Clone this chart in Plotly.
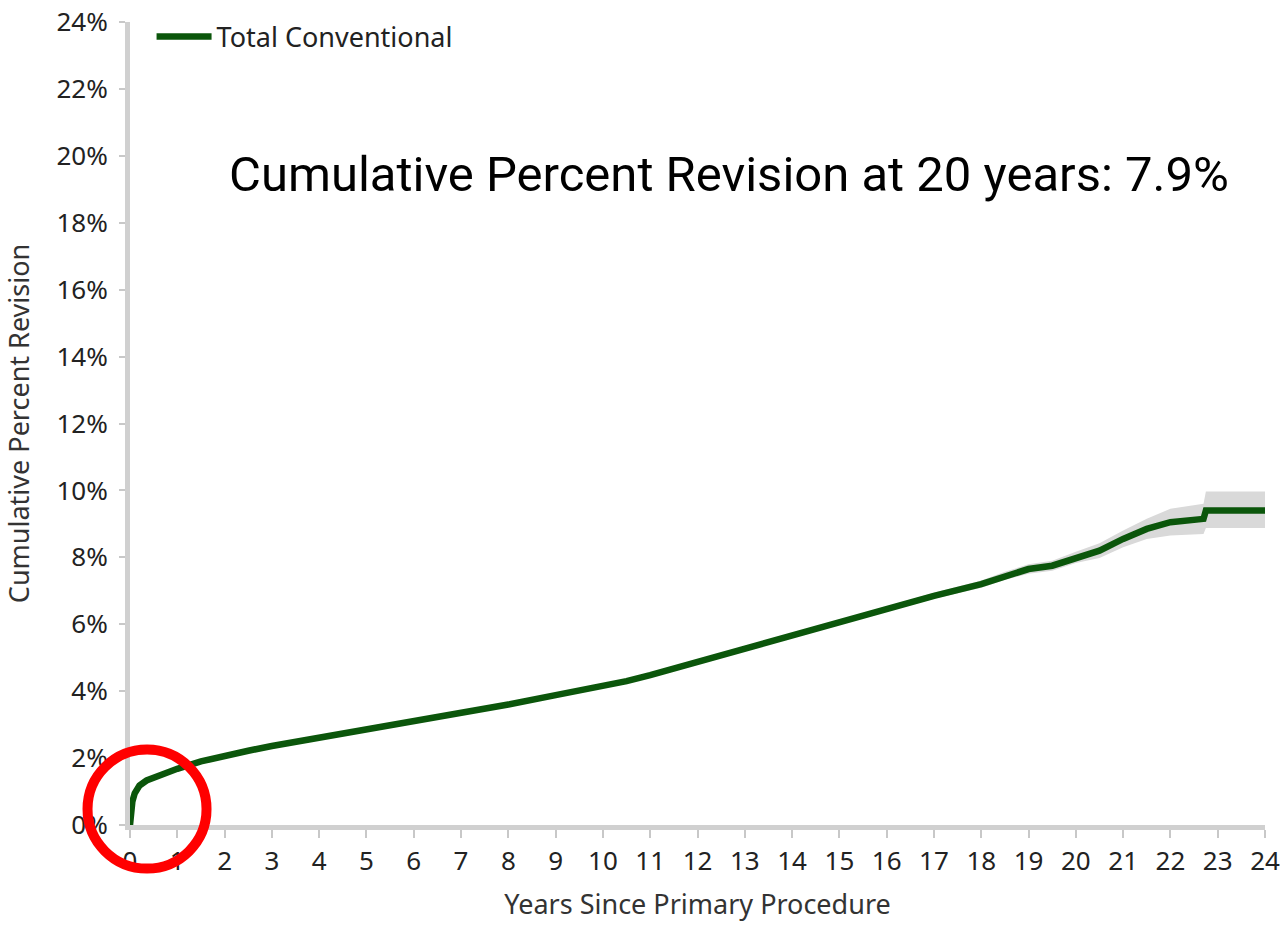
import plotly.graph_objects as go

# Data
years = [0, 0.02, 0.05, 0.1, 0.2, 0.35, 0.6, 1.0, 1.5, 2, 2.5, 3, 3.5, 4, 4.5, 5,
         6, 7, 8, 9, 10, 10.5, 11, 12, 13, 14, 15, 16, 17, 18, 18.5, 19, 19.5,
         20, 20.5, 21, 21.5, 22, 22.7, 22.75, 24]
cpr = [0, 0.35, 0.7, 0.95, 1.18, 1.33, 1.48, 1.68, 1.9, 2.07, 2.22, 2.36, 2.48, 2.6, 2.72, 2.84,
       3.08, 3.35, 3.6, 3.88, 4.15, 4.3, 4.48, 4.88, 5.25, 5.65, 6.05, 6.45, 6.85, 7.2, 7.45, 7.65, 7.75,
       8.0, 8.2, 8.55, 8.85, 9.05, 9.15, 9.4, 9.4]
ci_upper = [0, 0.37, 0.73, 0.98, 1.21, 1.36, 1.51, 1.71, 1.93, 2.1, 2.25, 2.39, 2.51, 2.63, 2.75, 2.87,
            3.11, 3.38, 3.63, 3.91, 4.19, 4.34, 4.52, 4.93, 5.3, 5.71, 6.12, 6.53, 6.94, 7.31, 7.57, 7.79, 7.9,
            8.17, 8.42, 8.8, 9.15, 9.45, 9.6, 9.97, 9.97]
ci_lower = [0, 0.33, 0.67, 0.92, 1.15, 1.30, 1.45, 1.65, 1.87, 2.04, 2.19, 2.33, 2.45, 2.57, 2.69, 2.81,
            3.05, 3.32, 3.57, 3.85, 4.11, 4.26, 4.44, 4.83, 5.2, 5.59, 5.98, 6.37, 6.76, 7.09, 7.33, 7.51, 7.6,
            7.83, 7.98, 8.3, 8.55, 8.65, 8.7, 8.88, 8.88]

x_ticks = list(range(0, 25))
y_ticks = list(range(0, 25, 2))
y_ticktext = [f"{v}%" for v in y_ticks]

series_name = "Total Conventional"
annotation_text = "Cumulative Percent Revision at 20 years: 7.9%"

FONT = "Noto Sans"
GREEN = "#0b560b"

fig = go.Figure()
fig.add_trace(go.Scatter(x=years, y=ci_upper, mode="lines", line=dict(width=0, color="#d9d9d9"),
                         showlegend=False, hoverinfo="skip"))
fig.add_trace(go.Scatter(x=years, y=ci_lower, mode="lines", line=dict(width=0, color="#d9d9d9"),
                         fill="tonexty", fillcolor="#d9d9d9", showlegend=False, hoverinfo="skip"))
fig.add_trace(go.Scatter(x=years, y=cpr, mode="lines", name=series_name,
                         line=dict(width=6.5, color=GREEN)))

fig.update_layout(
    width=1281, height=925,
    margin=dict(l=130, r=16, t=18, b=100),
    paper_bgcolor="white", plot_bgcolor="white",
    font=dict(family=FONT, size=26, color="#222222"),
    showlegend=True,
    legend=dict(x=0.019, y=1.012, xanchor="left", yanchor="top", bgcolor="rgba(0,0,0,0)",
                itemwidth=55,
                font=dict(family=FONT, size=27, color="#222222")),
)

fig.update_xaxes(
    range=[0, 24], tickvals=x_ticks, ticktext=[str(v) for v in x_ticks],
    showgrid=False, zeroline=False, automargin=False,
    showline=True, linecolor="#d0d0d0", linewidth=5,
    ticks="outside", ticklen=8, tickcolor="#c8c8c8", tickwidth=2,
    tickfont=dict(family=FONT, size=26, color="#222222"), ticklabelstandoff=1,
    ticklabeloverflow="allow",
    title=dict(text="Years Since Primary Procedure", font=dict(family=FONT, size=27, color="#333333"),
               standoff=19),
)
fig.update_yaxes(
    range=[0, 24], tickvals=y_ticks, ticktext=y_ticktext,
    showgrid=False, zeroline=False, automargin=False,
    showline=True, linecolor="#d0d0d0", linewidth=5,
    ticks="outside", ticklen=6, tickcolor="#c8c8c8", tickwidth=2,
    tickfont=dict(family=FONT, size=26, color="#222222"), ticklabelstandoff=6,
    ticklabeloverflow="allow",
    title=dict(text="Cumulative Percent Revision", font=dict(family=FONT, size=27, color="#333333"),
               standoff=24),
)

fig.add_annotation(x=0.528, y=0.81, xref="paper", yref="paper", text=annotation_text,
                   showarrow=False, xanchor="center", yanchor="middle",
                   font=dict(family="Roboto", size=49, color="black"))

# red highlight circle
fig.add_shape(type="circle", xref="paper", yref="paper",
              xsizemode="pixel", ysizemode="pixel", xanchor=0.015, yanchor=0.0198,
              x0=-59.5, x1=59.5, y0=-59.5, y1=59.5,
              line=dict(color="#ff0000", width=10), layer="above")

fig.write_html("out.html", config={"displayModeBar": False},
               post_script="document.body.style.margin='0';document.body.style.overflow='hidden';")
